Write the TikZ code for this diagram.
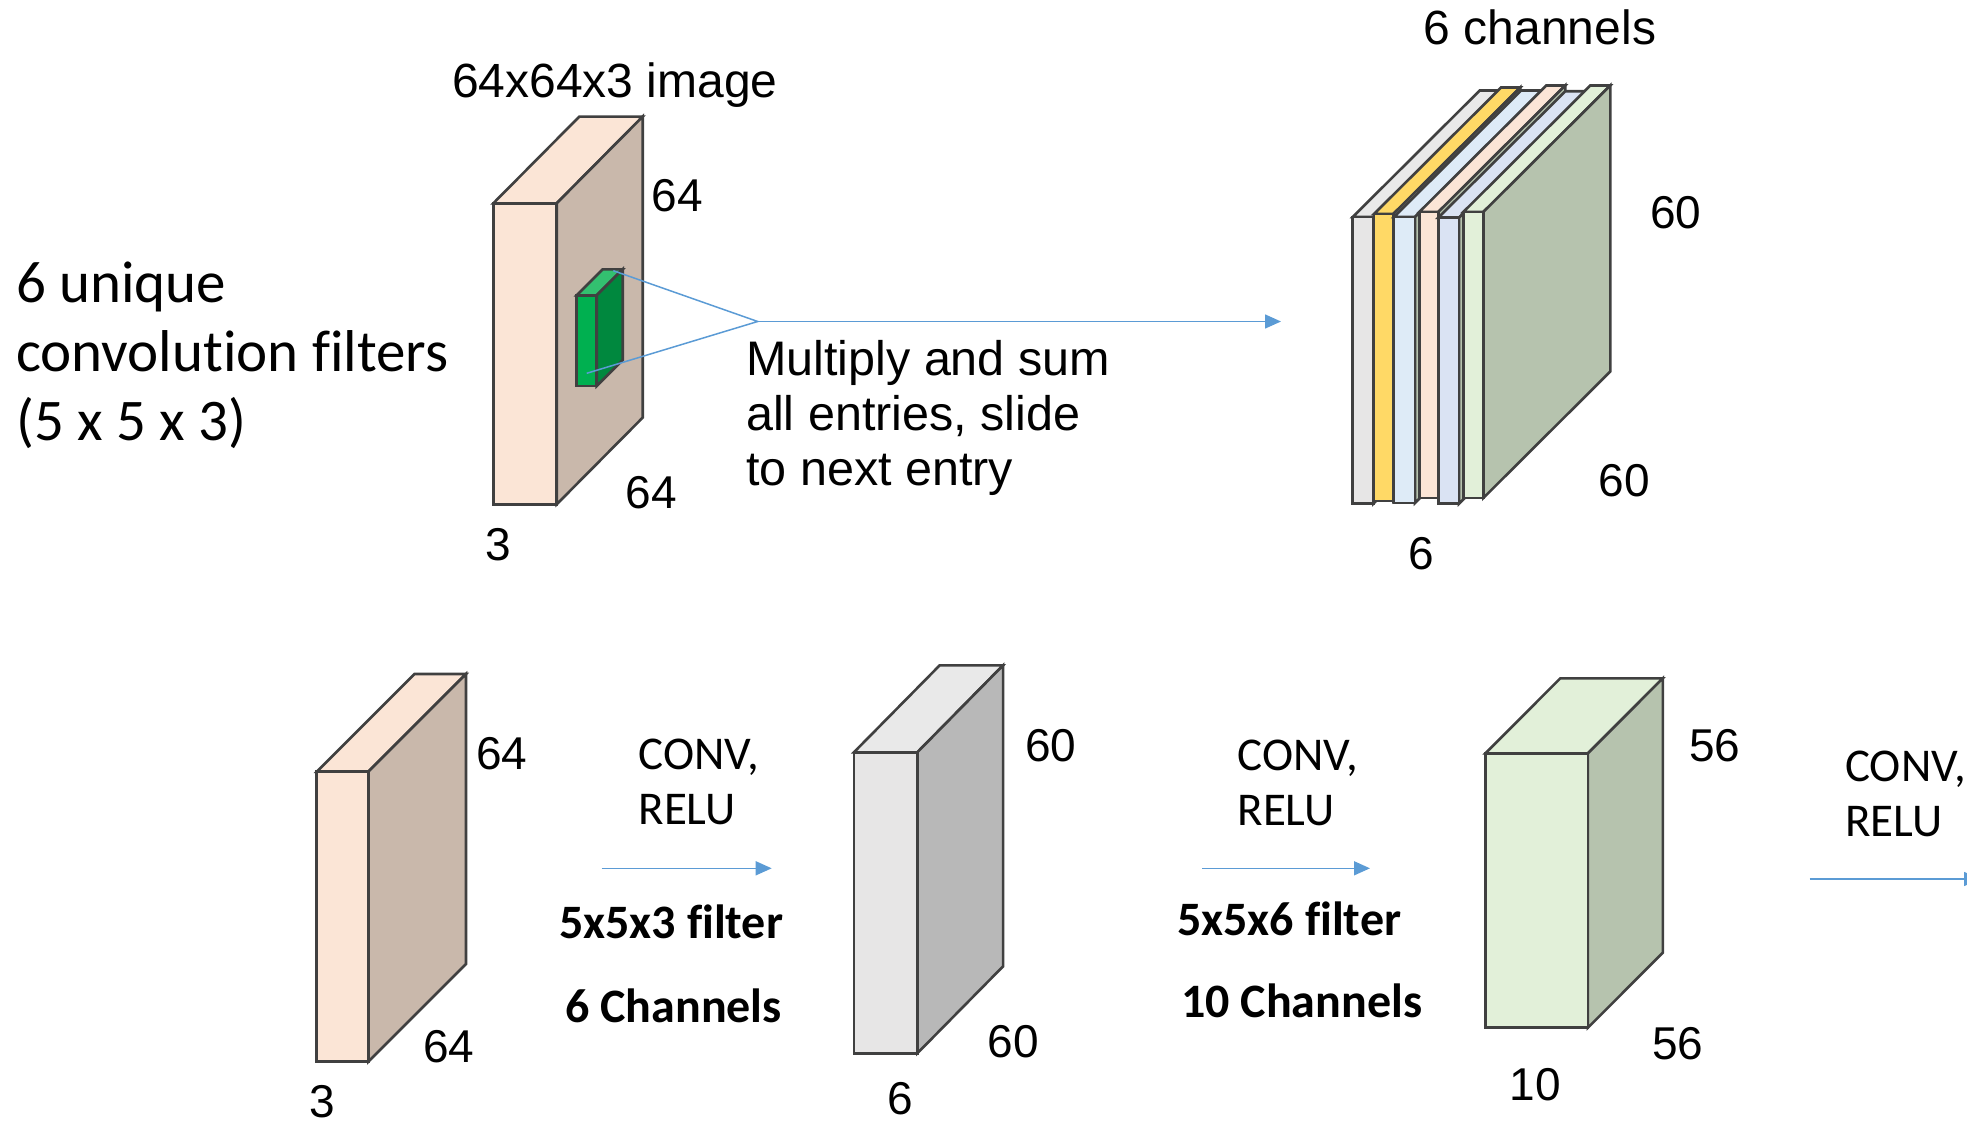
\documentclass[tikz,border=0pt]{standalone}
\usepackage{fontspec}
\setmainfont{Liberation Sans}
\newfontfamily\calfont[Ligatures=NoCommon]{Carlito}
\usetikzlibrary{arrows.meta}
\definecolor{edge}{HTML}{404040}
\definecolor{arrowblue}{HTML}{5B9BD5}
\definecolor{peachF}{HTML}{FBE5D6}
\definecolor{peachS}{HTML}{C9B8AB}
\definecolor{grayF}{HTML}{E7E6E6}
\definecolor{grayT}{HTML}{E9E9E9}
\definecolor{grayS}{HTML}{B8B8B8}
\definecolor{goldF}{HTML}{FFD966}
\definecolor{skyF}{HTML}{DEEBF7}
\definecolor{lavF}{HTML}{DAE3F3}
\definecolor{mintF}{HTML}{E2F0D9}
\definecolor{mintS}{HTML}{B6C3AE}
\definecolor{filtF}{HTML}{00B050}
\definecolor{filtT}{HTML}{33C070}
\definecolor{filtS}{HTML}{00883E}
% #1 x0, #2 y0 (top), #3 x1, #4 y1 (bottom), #5 dx, #6 dy, #7 front, #8 top, #9 side
\newcommand\drawcuboid[9]{%
  \filldraw[boxline, fill=#8] (#1,#2) -- ++(#5,-#6) -- ++({#3-#1},0) -- (#3,#2) -- cycle;
  \filldraw[boxline, fill=#9] (#3,#2) -- ++(#5,-#6) -- ++(0,{#4-#2}) -- (#3,#4) -- cycle;
  \filldraw[boxline, fill=#7] (#1,#2) rectangle (#3,#4);
}
\begin{document}
\begin{tikzpicture}[x=1pt,y=-1pt,
  boxline/.style={draw=edge, line width=2.6pt, line join=miter},
  link/.style={draw=arrowblue, line width=1.5pt},
  flow/.style={draw=arrowblue, line width=1.5pt, -{Triangle[length=16pt,width=14pt]}},
  dimlabel/.style={font=\fontsize{46}{55}\selectfont, inner sep=0pt, anchor=center},
  toplabel/.style={font=\fontsize{48}{57}\selectfont, inner sep=0pt, anchor=base},
  noteline/.style={font=\fontsize{48.5}{58}\selectfont, inner sep=0pt, anchor=base west},
  leftline/.style={font=\calfont\fontsize{59}{70}\selectfont, inner sep=0pt, anchor=base west},
  oplabel/.style={font=\calfont\fontsize{47}{56}\selectfont, inner sep=0pt, anchor=base west},
  boldlabel/.style={font=\calfont\bfseries\fontsize{48}{57}\selectfont, inner sep=0pt, anchor=base west}]
\useasboundingbox (0,0) rectangle (1967,1124);
\clip (0,0) rectangle (1967,1124);

% ---------- left description ----------
\node[leftline] (desc1) at (16,302) {6 unique};
\node[leftline] (desc2) at (16,371) {convolution filters};
\node[leftline] (desc3) at (16,440) {(5 x 5 x 3)};

% ---------- input image ----------
\drawcuboid{493.3}{203.3}{556.7}{504.3}{86}{86.7}{peachF}{peachF}{peachS}
\drawcuboid{576.7}{295.3}{596.7}{386}{26}{26}{filtF}{filtT}{filtS}
\node[toplabel] (imgtitle) at (615,97) {64x64x3 image};
\node[dimlabel] (imgH) at (677.2,195.7) {64};
\node[dimlabel] (imgW) at (651.3,492.7) {64};
\node[dimlabel] (imgD) at (498.3,545) {3};

% filter projection lines
\coordinate (fTop) at (613.3,270.7);
\coordinate (fBot) at (586.7,373.3);
\coordinate (apex) at (757.7,321.5);
\coordinate (stackIn) at (1281,321.5);
\draw[link] (fTop) -- (apex) -- (fBot);
\draw[flow] (apex) -- (stackIn);
\node[noteline] (note1) at (746,375) {Multiply and sum};
\node[noteline] (note2) at (746,430) {all entries, slide};
\node[noteline] (note3) at (746,485) {to next entry};

% ---------- 6 channel stack ----------
\drawcuboid{1352.7}{217}{1373.3}{503.7}{127}{126.5}{grayF}{grayT}{mintS}
\drawcuboid{1374}{214}{1393.3}{501}{127}{126.5}{goldF}{goldF}{mintS}
\drawcuboid{1394}{217}{1415}{503}{127}{126.5}{skyF}{skyF}{mintS}
\drawcuboid{1419.3}{212}{1438.3}{498}{127}{126.5}{peachF}{peachF}{mintS}
\drawcuboid{1438.3}{217.7}{1459}{503.7}{127}{126.5}{lavF}{lavF}{mintS}
\drawcuboid{1463.3}{212}{1483.3}{498}{127}{126.5}{mintF}{mintF}{mintS}
\node[toplabel] (stacktitle) at (1540,45) {6 channels};
\node[dimlabel] (stackH) at (1675.8,212.5) {60};
\node[dimlabel] (stackW) at (1624,481) {60};
\node[dimlabel] (stackD) at (1420.8,554) {6};

% ---------- bottom row ----------
\drawcuboid{316.7}{771.7}{368.3}{1061.7}{97.7}{97.7}{peachF}{peachF}{peachS}
\node[dimlabel] (b1H) at (501.7,753.3) {64};
\node[dimlabel] (b1W) at (448.7,1046.7) {64};
\node[dimlabel] (b1D) at (322.5,1101.7) {3};

\node[oplabel] (op1a) at (638.3,769) {CONV,};
\node[oplabel] (op1b) at (638.3,824) {RELU};
\coordinate (a1s) at (601.7,868.3);
\coordinate (a1e) at (771.7,868.3);
\draw[flow] (a1s) -- (a1e);
\node[boldlabel] (f1) at (559,938) {5x5x3 filter};
\node[boldlabel] (c1) at (565,1022) {6 Channels};

\drawcuboid{853.9}{752.3}{917.3}{1053.3}{85.8}{87}{grayF}{grayT}{grayS}
\node[dimlabel] (b2H) at (1050.8,746) {60};
\node[dimlabel] (b2W) at (1013.5,1041.7) {60};
\node[dimlabel] (b2D) at (900.5,1098.3) {6};

\node[oplabel] (op2a) at (1237.3,770) {CONV,};
\node[oplabel] (op2b) at (1237.3,825) {RELU};
\coordinate (a2s) at (1202,868.3);
\coordinate (a2e) at (1370,868.3);
\draw[flow] (a2s) -- (a2e);
\node[boldlabel] (f2) at (1177,935) {5x5x6 filter};
\node[boldlabel] (c2) at (1181,1017) {10 Channels};

\drawcuboid{1485.4}{753.3}{1587.9}{1027.7}{74.9}{75}{mintF}{mintF}{mintS}
\node[dimlabel] (b3H) at (1714.8,745.5) {56};
\node[dimlabel] (b3W) at (1677.8,1043.5) {56};
\node[dimlabel] (b3D) at (1535,1085) {10};

\node[oplabel] (op3a) at (1845,781.7) {CONV,};
\node[oplabel] (op3b) at (1845,836.7) {RELU};
\coordinate (a3s) at (1809.7,879);
\coordinate (a3e) at (1980,879);
\draw[flow] (a3s) -- (a3e);
\end{tikzpicture}
\end{document}
